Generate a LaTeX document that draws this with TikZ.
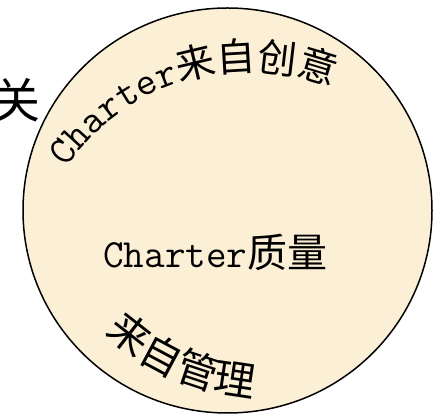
\documentclass[tikz,border=0pt]{standalone}
\usepackage{fontspec}
\newfontfamily\cjkf{Noto Sans CJK SC}
\newcommand\monof{\ttfamily}
\usetikzlibrary{shapes.geometric,decorations.text,calc}
\definecolor{parch}{RGB}{251,239,214}
\tikzset{
  disc/.style={ellipse, draw=black, line width=1.5pt, fill=parch, inner sep=0pt,
    minimum width=409pt, minimum height=405pt},
  arctext/.style={decorate, decoration={text along path, text align=left, #1}}
}
\begin{document}
\begin{tikzpicture}[x=1pt,y=1pt]
\useasboundingbox (0,0) rectangle (439,417);
\node[disc] (disc) at (227.5,206.5) {};
\node[anchor=base, inner sep=0pt, font=\cjkf\fontsize{48}{48}\selectfont] (guan) at (17,298) {关};
\node[anchor=base west, inner sep=0pt] (mid) at (103,149)
  {\monof\fontsize{40}{40}\selectfont Charter\cjkf\fontsize{40}{40}\selectfont 质量};
\path[arctext={text={|\monof\fontsize{40}{40}\selectfont|Charter|\cjkf\fontsize{39}{39}\selectfont|来自创意}}]
  ($(250,124)+(145.7:222)$) arc[start angle=145.7, end angle=55, radius=222];
\path[arctext={text={|\cjkf\fontsize{41}{41}\selectfont|来自管理}}]
  ($(268,260)+(227.2:240)$) arc[start angle=227.2, end angle=280, radius=240];
\end{tikzpicture}
\end{document}
